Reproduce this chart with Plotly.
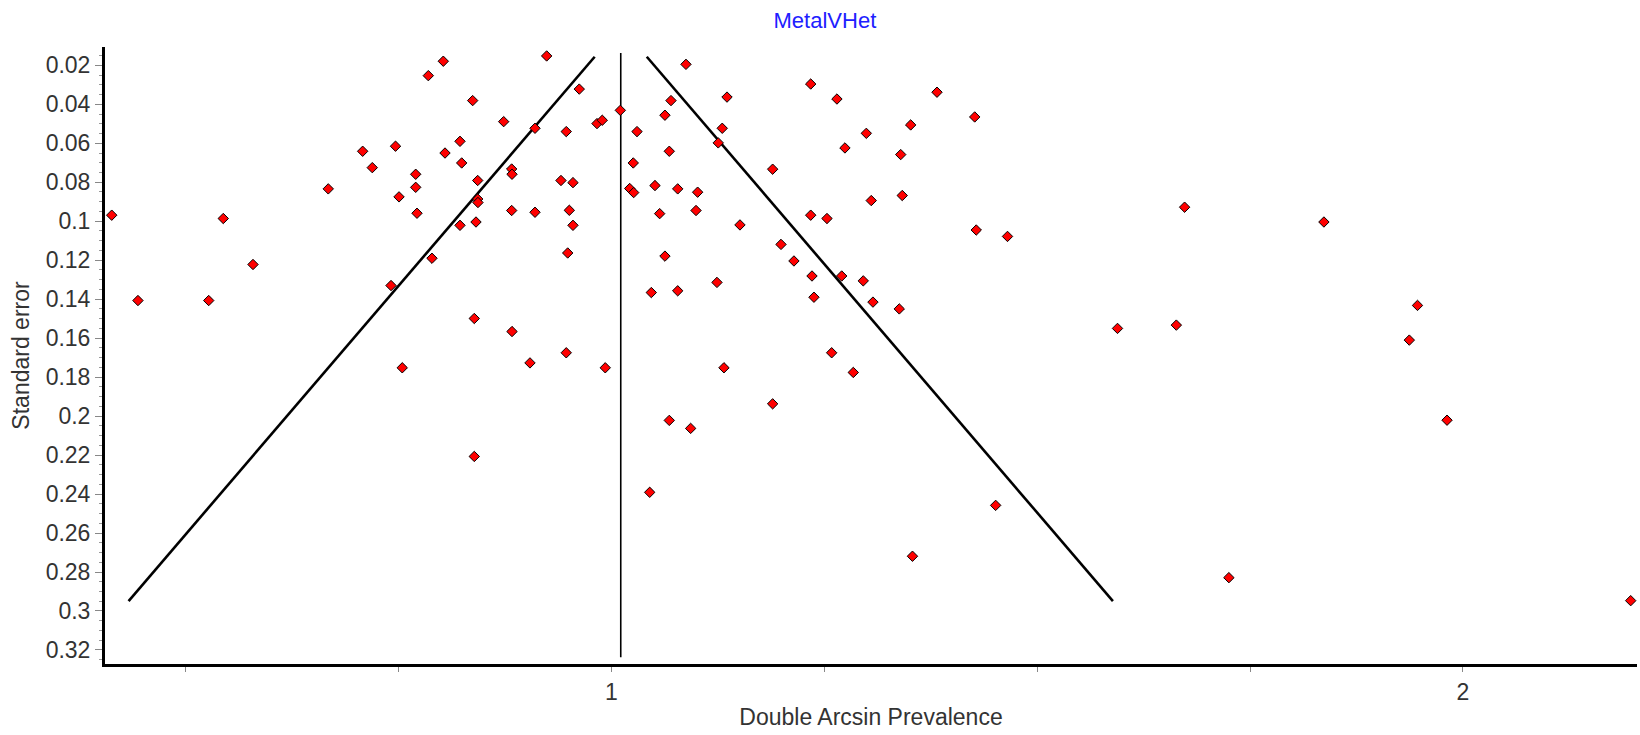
import plotly.graph_objects as go

# ---- data ----
effect = [0.4132, 0.5442, 0.5791, 0.6675, 0.7079, 0.7192, 0.7465, 0.7850, 0.8026, 0.9240,
          0.8371, 0.9623, 0.8735, 0.9103, 0.9470, 0.9831, 0.9893, 1.0105, 0.8222, 0.8046,
          0.8242, 0.7702, 0.7702, 0.7506, 0.8430, 0.8829, 0.8833, 0.9408, 0.9549, 0.8430,
          0.8433, 0.7717, 0.8829, 0.9103, 0.9506, 0.8222, 0.8410, 0.9549, 0.7893, 0.9487,
          1.0876, 1.0700, 1.0629, 1.0301, 1.0680, 1.0257, 1.0215, 1.0262, 1.0512, 1.0779,
          1.1013, 1.0567, 1.0994, 1.0629, 1.1358, 1.2341, 1.2649, 1.3824, 1.4267, 1.1302,
          1.1255, 1.2994, 1.3515, 1.2743, 1.3398, 1.1894, 1.3052, 1.3416, 1.1510, 1.2341,
          1.2532, 1.4285, 1.1992, 1.2144, 0.4440, 0.5271, 0.7412, 0.8390, 0.8833, 0.7544,
          0.9044, 0.9470, 0.9928, 0.8390, 1.0469, 1.0779, 1.0680, 1.0931, 1.0450, 1.1240,
          1.2356, 1.2705, 1.2958, 1.2379, 1.3072, 1.3381, 1.2587, 1.1322, 1.2841, 1.1894,
          1.3536, 1.4513, 1.4652, 1.6732, 1.8368, 1.5944, 1.6635, 1.9467, 1.9371, 1.9814,
          1.7252, 2.1971]
std_err = [0.0969, 0.0986, 0.1222, 0.0834, 0.0641, 0.0725, 0.0615, 0.0253, 0.0179, 0.0152,
           0.0381, 0.0322, 0.0489, 0.0523, 0.0540, 0.0499, 0.0482, 0.0431, 0.0590, 0.0650,
           0.0701, 0.0759, 0.0826, 0.0875, 0.0791, 0.0732, 0.0759, 0.0791, 0.0802, 0.0886,
           0.0904, 0.0959, 0.0945, 0.0954, 0.0944, 0.1021, 0.1004, 0.1021, 0.1190, 0.1163,
           0.0195, 0.0381, 0.0456, 0.0540, 0.0641, 0.0701, 0.0832, 0.0853, 0.0817, 0.0834,
           0.0851, 0.0961, 0.0945, 0.1179, 0.0363, 0.0296, 0.0373, 0.0338, 0.0465, 0.0523,
           0.0598, 0.0549, 0.0506, 0.0624, 0.0658, 0.0733, 0.0894, 0.0868, 0.1019, 0.0969,
           0.0986, 0.1045, 0.1119, 0.1204, 0.1407, 0.1407, 0.1330, 0.1499, 0.1566, 0.1752,
           0.1727, 0.1675, 0.1752, 0.2207, 0.1366, 0.1357, 0.2022, 0.2063, 0.2391, 0.1314,
           0.1281, 0.1281, 0.1306, 0.1390, 0.1415, 0.1450, 0.1675, 0.1752, 0.1776, 0.1937,
           0.2719, 0.2458, 0.1078, 0.0928, 0.1004, 0.1550, 0.1533, 0.1432, 0.1610, 0.2021,
           0.2829, 0.2947]

pooled_effect = 1.011
z_crit = 1.96
funnel_se = [0.0156, 0.2949]
mean_line_se = [0.0137, 0.3237]

y_tickvals = [0.02, 0.04, 0.06, 0.08, 0.10, 0.12, 0.14, 0.16, 0.18, 0.20,
              0.22, 0.24, 0.26, 0.28, 0.30, 0.32]
y_ticktext = ["0.02", "0.04", "0.06", "0.08", "0.1", "0.12", "0.14", "0.16", "0.18", "0.2",
              "0.22", "0.24", "0.26", "0.28", "0.3", "0.32"]
x_tickvals = [0.5, 0.75, 1.0, 1.25, 1.5, 1.75, 2.0]
x_ticktext = ["", "", "1", "", "", "", "2"]

FONT = "Liberation Sans, Arial, sans-serif"
TXT = "#333333"

fig = go.Figure()

left_x = [pooled_effect - z_crit * s for s in funnel_se]
right_x = [pooled_effect + z_crit * s for s in funnel_se]

fig.add_trace(go.Scatter(x=left_x, y=funnel_se, mode="lines",
                         line=dict(color="black", width=2.6), hoverinfo="skip"))
fig.add_trace(go.Scatter(x=right_x, y=funnel_se, mode="lines",
                         line=dict(color="black", width=2.6), hoverinfo="skip"))
fig.add_trace(go.Scatter(x=[pooled_effect, pooled_effect], y=mean_line_se, mode="lines",
                         line=dict(color="black", width=1.6), hoverinfo="skip"))

fig.add_trace(go.Scatter(x=effect, y=std_err, mode="markers",
                         marker=dict(symbol="diamond", size=8, color="#ff0000",
                                     line=dict(color="black", width=1)),
                         cliponaxis=False))

fig.update_layout(
    width=1640, height=735,
    margin=dict(l=105, r=3, t=47, b=71),
    paper_bgcolor="white", plot_bgcolor="white",
    showlegend=False,
    title=dict(text="MetalVHet", x=0.503, xanchor="center", y=0.972, yanchor="middle",
               font=dict(family=FONT, size=22, color="#2020ff")),
    font=dict(family=FONT, size=23, color=TXT),
)

fig.update_xaxes(
    range=[0.4053, 2.2045],
    showgrid=False, zeroline=False,
    showline=True, linecolor="black", linewidth=3,
    ticks="outside", ticklen=5, tickwidth=1, tickcolor="#888888",
    tickvals=x_tickvals, ticktext=x_ticktext,
    tickfont=dict(family=FONT, size=23, color=TXT),
    title=dict(text="Double Arcsin Prevalence", standoff=6,
               font=dict(family=FONT, size=23, color=TXT)),
)

fig.update_yaxes(
    range=[0.3272, 0.0106],
    showgrid=False, zeroline=False,
    showline=True, linecolor="black", linewidth=3,
    ticks="outside", ticklen=7, tickwidth=1, tickcolor="#888888",
    tickvals=y_tickvals, ticktext=y_ticktext,
    minor=dict(tickmode="linear", tick0=0.0, dtick=0.005, ticks="outside",
               ticklen=3, tickcolor="#999999", tickwidth=1, showgrid=False),
    tickfont=dict(family=FONT, size=23, color=TXT),
    title=dict(text="Standard error", standoff=10,
               font=dict(family=FONT, size=23, color=TXT)),
)

post_js = ("document.documentElement.style.margin='0';"
           "document.documentElement.style.overflow='hidden';"
           "document.body.style.margin='0';"
           "document.body.style.padding='0';"
           "document.body.style.overflow='hidden';")

fig.write_html("out.html", post_script=post_js, config={"displayModeBar": False})
